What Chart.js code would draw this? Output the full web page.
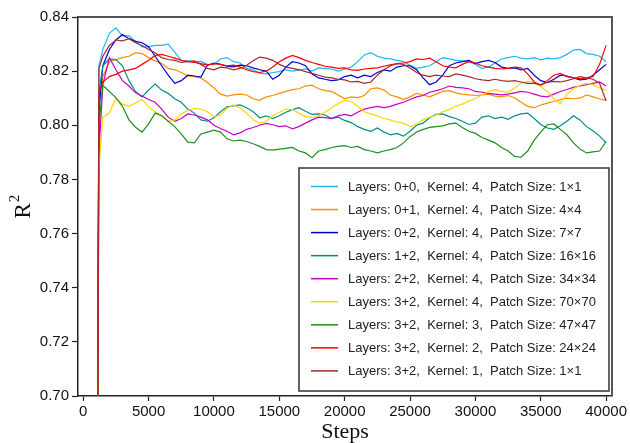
<!DOCTYPE html>
<html>
<head>
<meta charset="utf-8">
<script src="https://cdn.jsdelivr.net/npm/chart.js@4.4.0/dist/chart.umd.min.js"></script>
<style>
  html, body { margin: 0; padding: 0; background: #fff; }
</style>
</head>
<body>
<canvas id="chart1" width="630" height="443"></canvas>
<script>
// training steps (x positions of the samples)
var steps = [
  1000,1200,1500,2000,2500,3000,3500,4000,4500,5000,
  5500,6000,6500,7000,7500,8000,8500,9000,9500,10000,
  10500,11000,11500,12000,12500,13000,13500,14000,14500,15000,
  15500,16000,16500,17000,17500,18000,18500,19000,19500,20000,
  20500,21000,21500,22000,22500,23000,23500,24000,24500,25000,
  25500,26000,26500,27000,27500,28000,28500,29000,29500,30000,
  30500,31000,31500,32000,32500,33000,33500,34000,34500,35000,
  35500,36000,36500,37000,37500,38000,38500,39000,39500,40000
];

var labels = [
  "Layers: 0+0,  Kernel: 4,  Patch Size: 1\u00d71",
  "Layers: 0+1,  Kernel: 4,  Patch Size: 4\u00d74",
  "Layers: 0+2,  Kernel: 4,  Patch Size: 7\u00d77",
  "Layers: 1+2,  Kernel: 4,  Patch Size: 16\u00d716",
  "Layers: 2+2,  Kernel: 4,  Patch Size: 34\u00d734",
  "Layers: 3+2,  Kernel: 4,  Patch Size: 70\u00d770",
  "Layers: 3+2,  Kernel: 3,  Patch Size: 47\u00d747",
  "Layers: 3+2,  Kernel: 2,  Patch Size: 24\u00d724",
  "Layers: 3+2,  Kernel: 1,  Patch Size: 1\u00d71"
];

var colors = ['#1cb8f2', '#ff8c00', '#0000cd', '#008b8b', '#c800c8', '#ffd700', '#228b22', '#ff0000', '#a52a2a'];

var r2_00 = [
  0.55,0.822,0.828,0.834,0.836,0.833,0.833,0.831,0.829,0.829,
  0.8295,0.8295,0.830,0.827,0.824,0.8238,0.8235,0.8236,0.8225,0.8224,
  0.8245,0.825,0.8235,0.823,0.821,0.8205,0.8192,0.819,0.8195,0.8198,
  0.8205,0.820,0.8204,0.8208,0.820,0.8212,0.821,0.8208,0.820,0.8207,
  0.8215,0.8235,0.826,0.8268,0.8255,0.8248,0.8245,0.824,0.8235,0.8222,
  0.821,0.8215,0.822,0.8235,0.825,0.8245,0.824,0.8238,0.8235,0.8225,
  0.821,0.8215,0.823,0.8245,0.825,0.8255,0.8248,0.8245,0.825,0.8242,
  0.8248,0.8245,0.825,0.8262,0.8278,0.828,0.8265,0.8262,0.8255,0.8235
];
var r2_01 = [
  0.55,0.810,0.818,0.8235,0.8242,0.825,0.8255,0.8268,0.8265,0.825,
  0.8238,0.8228,0.821,0.8205,0.8195,0.8182,0.818,0.8175,0.8158,0.8138,
  0.8115,0.8108,0.8112,0.8115,0.8112,0.8098,0.8092,0.8105,0.811,0.8118,
  0.8125,0.8132,0.8135,0.8145,0.8148,0.8135,0.8128,0.8125,0.8112,0.8098,
  0.8105,0.8102,0.811,0.8135,0.8138,0.813,0.8112,0.8105,0.8095,0.8105,
  0.8118,0.8112,0.8105,0.8115,0.8125,0.8128,0.812,0.8115,0.8112,0.811,
  0.8112,0.8115,0.8108,0.8105,0.811,0.8102,0.8085,0.807,0.8065,0.8075,
  0.8082,0.8088,0.8095,0.81,0.8098,0.81,0.8112,0.8105,0.8098,0.8092
];
var r2_02 = [
  0.55,0.805,0.822,0.828,0.8315,0.8335,0.832,0.831,0.8305,0.829,
  0.8255,0.822,0.8185,0.8155,0.8165,0.8185,0.8182,0.8178,0.8222,0.823,
  0.8225,0.8218,0.8216,0.8222,0.822,0.8212,0.8205,0.820,0.817,0.8185,
  0.8215,0.8235,0.823,0.822,0.819,0.8175,0.817,0.8165,0.8168,0.818,
  0.8185,0.8175,0.8185,0.818,0.8195,0.8205,0.820,0.8215,0.822,0.822,
  0.8205,0.8175,0.815,0.816,0.8185,0.822,0.823,0.8235,0.824,0.8228,
  0.8235,0.824,0.8232,0.8215,0.821,0.8212,0.8205,0.821,0.8185,0.8165,
  0.8158,0.817,0.8185,0.8182,0.8175,0.8168,0.817,0.8185,0.8205,0.8225
];
var r2_12 = [
  0.55,0.812,0.822,0.8245,0.8243,0.822,0.8165,0.8125,0.8105,0.813,
  0.8152,0.813,0.8118,0.8098,0.8085,0.806,0.8045,0.802,0.8015,0.8028,
  0.805,0.8068,0.8072,0.8075,0.8065,0.805,0.8028,0.8035,0.8025,0.8035,
  0.8048,0.8058,0.8065,0.8052,0.804,0.8042,0.8038,0.8025,0.803,0.8018,
  0.801,0.7995,0.7985,0.7978,0.799,0.7975,0.7965,0.797,0.796,0.7978,
  0.8,0.8008,0.8028,0.804,0.8042,0.8032,0.8025,0.8015,0.8003,0.8008,
  0.803,0.8035,0.8025,0.803,0.8022,0.8035,0.8042,0.8045,0.8025,0.8003,
  0.799,0.7985,0.7998,0.8015,0.8035,0.802,0.7995,0.798,0.796,0.7935
];
var r2_22 = [
  0.55,0.79,0.815,0.825,0.8205,0.8165,0.8145,0.812,0.8108,0.8095,
  0.8085,0.806,0.803,0.8015,0.8025,0.8042,0.8038,0.803,0.802,0.800,
  0.7988,0.7978,0.7965,0.7972,0.7985,0.7992,0.800,0.8007,0.8002,0.7995,
  0.7998,0.7987,0.7995,0.8008,0.802,0.803,0.8028,0.8025,0.8035,0.804,
  0.8035,0.8048,0.806,0.8065,0.807,0.8065,0.807,0.8078,0.8085,0.8095,
  0.8105,0.811,0.8122,0.8128,0.8135,0.8145,0.814,0.8138,0.8135,0.8125,
  0.8122,0.8118,0.8115,0.8112,0.8115,0.812,0.8125,0.8122,0.8115,0.8108,
  0.8105,0.8115,0.8125,0.8132,0.814,0.8145,0.815,0.8155,0.816,0.8145
];
var r2_32k4 = [
  0.55,0.785,0.803,0.8045,0.810,0.8078,0.807,0.8082,0.8095,0.8068,
  0.805,0.8035,0.8015,0.802,0.8042,0.8055,0.8062,0.806,0.805,0.8032,
  0.8038,0.8063,0.8075,0.8065,0.8045,0.802,0.8008,0.8015,0.8035,0.8048,
  0.806,0.8058,0.8045,0.8032,0.8028,0.8035,0.8048,0.8065,0.808,0.8092,
  0.8088,0.807,0.805,0.8042,0.8035,0.8025,0.802,0.8012,0.8008,0.7995,
  0.8005,0.802,0.803,0.8038,0.805,0.8058,0.807,0.8078,0.809,0.8098,
  0.8112,0.8125,0.8132,0.8125,0.8122,0.8138,0.8155,0.8162,0.8158,0.8142,
  0.8125,0.8098,0.808,0.8115,0.8135,0.8148,0.8155,0.815,0.8138,0.813
];
var r2_32k3 = [
  0.55,0.80,0.8148,0.8125,0.8102,0.807,0.802,0.7993,0.7975,0.8005,
  0.8045,0.8035,0.8015,0.7995,0.7968,0.7938,0.7935,0.7968,0.7975,0.7982,
  0.7975,0.795,0.7942,0.7945,0.794,0.7932,0.7922,0.791,0.7908,0.7912,
  0.7915,0.7918,0.7905,0.7898,0.788,0.7905,0.791,0.7918,0.7922,0.7925,
  0.7918,0.7922,0.791,0.7905,0.7898,0.7905,0.791,0.7918,0.7935,0.7958,
  0.7975,0.7985,0.7992,0.7995,0.7998,0.8005,0.8008,0.7992,0.7978,0.797,
  0.7955,0.7945,0.7935,0.7918,0.7905,0.7885,0.7882,0.7905,0.7945,0.7975,
  0.8002,0.8005,0.7985,0.7965,0.7935,0.7912,0.7898,0.7902,0.7905,0.794
];
var r2_32k2 = [
  0.55,0.812,0.816,0.818,0.8188,0.820,0.8205,0.821,0.8225,0.824,
  0.8258,0.8262,0.8255,0.8248,0.824,0.8235,0.8232,0.8228,0.8222,0.8228,
  0.8225,0.822,0.8222,0.8215,0.8205,0.8198,0.8195,0.820,0.8215,0.8235,
  0.8248,0.8258,0.825,0.824,0.8232,0.8225,0.8218,0.8215,0.821,0.8212,
  0.8205,0.8203,0.8208,0.821,0.8212,0.8218,0.8223,0.8228,0.823,0.8235,
  0.8245,0.8243,0.8248,0.8235,0.822,0.8215,0.8212,0.8225,0.8235,0.823,
  0.822,0.8215,0.821,0.8208,0.821,0.8215,0.8212,0.819,0.816,0.8148,
  0.8165,0.8185,0.8192,0.818,0.8175,0.8172,0.8175,0.818,0.8225,0.8295
];
var r2_32k1 = [
  0.55,0.821,0.8255,0.8295,0.8315,0.8312,0.832,0.8305,0.8295,0.828,
  0.8268,0.825,0.8243,0.824,0.8232,0.8235,0.8238,0.8225,0.821,0.8205,
  0.8215,0.8212,0.8205,0.821,0.8222,0.8238,0.8252,0.8248,0.824,0.8225,
  0.8215,0.821,0.8205,0.8198,0.8192,0.8185,0.8178,0.8175,0.817,0.8168,
  0.816,0.8162,0.8155,0.816,0.8185,0.8205,0.822,0.8228,0.8225,0.8212,
  0.8195,0.8185,0.818,0.8185,0.8182,0.818,0.819,0.8185,0.818,0.8172,
  0.8168,0.8165,0.817,0.8165,0.8162,0.8165,0.816,0.8155,0.8155,0.815,
  0.8158,0.8162,0.816,0.8165,0.8172,0.818,0.8175,0.817,0.8155,0.809
];

var xTicks = [0, 5000, 10000, 15000, 20000, 25000, 30000, 35000, 40000];
var yTicks = [0.70, 0.72, 0.74, 0.76, 0.78, 0.80, 0.82, 0.84];

var series = [r2_00, r2_01, r2_02, r2_12, r2_22, r2_32k4, r2_32k3, r2_32k2, r2_32k1];

var datasets = series.map(function (vals, i) {
  return {
    label: labels[i],
    data: vals.map(function (v, j) { return { x: steps[j], y: v }; }),
    borderColor: colors[i],
    backgroundColor: colors[i],
    borderWidth: 1.2,
    pointRadius: 0,
    tension: 0,
    order: series.length - i
  };
});

// top/right frame, the R^2 axis label and the boxed legend in the lower right
var framePlugin = {
  id: 'frame',
  afterDatasetsDraw: function (chart) {
    var a = chart.chartArea, ctx = chart.ctx;
    ctx.save();
    ctx.strokeStyle = '#555';
    ctx.lineWidth = 2;
    ctx.beginPath();
    ctx.moveTo(a.left, a.top);
    ctx.lineTo(a.right, a.top);
    ctx.lineTo(a.right, a.bottom);
    ctx.stroke();

    // y title: R with a raised 2, rotated
    ctx.save();
    ctx.translate(30, (a.top + a.bottom) / 2 + 12);
    ctx.rotate(-Math.PI / 2);
    ctx.fillStyle = '#111';
    ctx.textBaseline = 'alphabetic';
    ctx.textAlign = 'left';
    ctx.font = '23px "Liberation Serif", "Times New Roman", serif';
    ctx.fillText('R', 0, 0);
    var rw = ctx.measureText('R').width;
    ctx.font = '15px "Liberation Serif", "Times New Roman", serif';
    ctx.fillText('2', rw + 1, -11);
    ctx.restore();

    var lx = a.left + 221, ly = a.top + 151;
    var lw = a.right - 3 - lx, lh = a.bottom - 5 - ly;
    ctx.fillStyle = '#fff';
    ctx.fillRect(lx, ly, lw, lh);
    ctx.strokeStyle = '#333';
    ctx.lineWidth = 1.5;
    ctx.strokeRect(lx, ly, lw, lh);

    ctx.font = '13px "Liberation Sans", Arial, sans-serif';
    ctx.textBaseline = 'middle';
    ctx.textAlign = 'left';
    for (var i = 0; i < labels.length; i++) {
      var y = ly + 18.5 + i * 23.05;
      ctx.strokeStyle = colors[i];
      ctx.lineWidth = 1.5;
      ctx.beginPath();
      ctx.moveTo(lx + 12, y);
      ctx.lineTo(lx + 39, y);
      ctx.stroke();
      ctx.fillStyle = '#222';
      ctx.fillText(labels[i], lx + 49, y + 0.5);
    }
    ctx.restore();
  }
};

var ctx = document.getElementById('chart1').getContext('2d');
var chart = new Chart(ctx, {
  type: 'line',
  data: { datasets: datasets },
  options: {
    responsive: false,
    animation: false,
    layout: { padding: { top: 17, right: 18, left: 0, bottom: 0 } },
    plugins: {
      legend: { display: false },
      tooltip: { enabled: false }
    },
    scales: {
      x: {
        type: 'linear',
        min: -400,
        max: 40450,
        afterFit: function (s) { s.height = 47; },
        afterBuildTicks: function (s) { s.ticks = xTicks.map(function (v) { return { value: v }; }); },
        grid: { drawOnChartArea: false, tickLength: 5, tickColor: '#222', tickWidth: 1.2 },
        border: { color: '#222', width: 1.5 },
        ticks: {
          color: '#111',
          padding: 2,
          maxRotation: 0,
          font: { family: '"Liberation Sans", Arial, sans-serif', size: 15 },
          callback: function (v) { return String(v); }
        },
        title: {
          display: true,
          text: 'Steps',
          color: '#111',
          padding: { top: 0, bottom: -2 },
          font: { family: '"Liberation Serif", "Times New Roman", serif', size: 22 }
        }
      },
      y: {
        min: 0.70,
        max: 0.84,
        afterFit: function (s) { s.width = 78; },
        afterBuildTicks: function (s) { s.ticks = yTicks.map(function (v) { return { value: v }; }); },
        grid: { drawOnChartArea: false, tickLength: 6, tickColor: '#222', tickWidth: 1.2 },
        border: { color: '#222', width: 1.5 },
        ticks: {
          color: '#111',
          padding: 3,
          font: { family: '"Liberation Sans", Arial, sans-serif', size: 15 },
          callback: function (v) { return Number(v).toFixed(2); }
        }
      }
    }
  },
  plugins: [framePlugin]
});
</script>
</body>
</html>
